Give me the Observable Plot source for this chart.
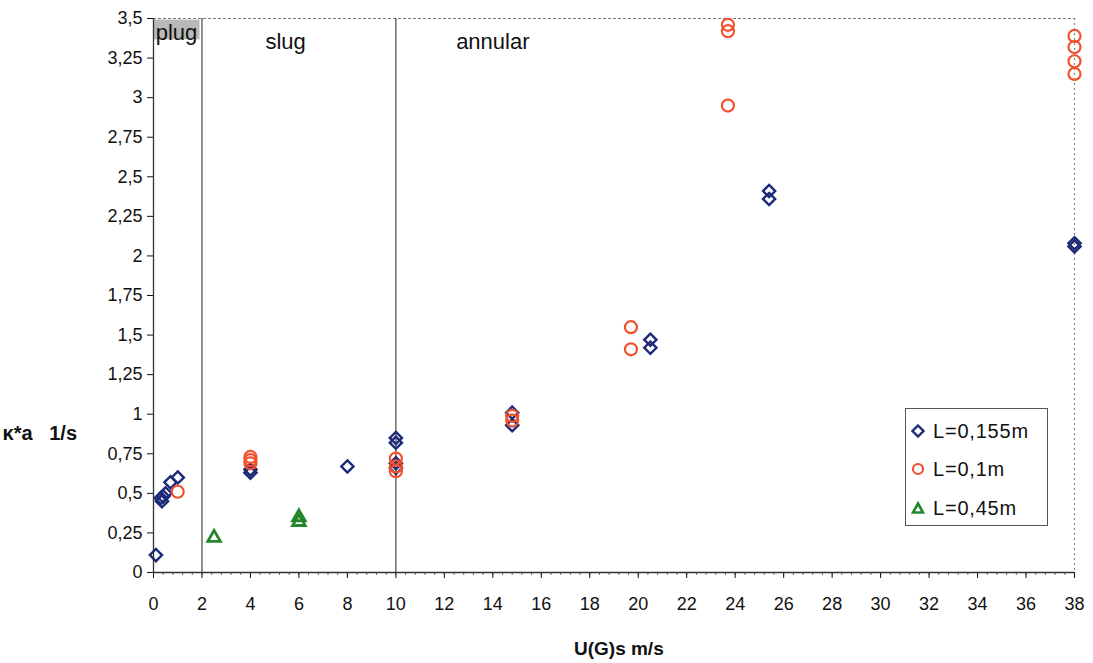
<!DOCTYPE html>
<html><head><meta charset="utf-8">
<script src="https://cdn.jsdelivr.net/npm/d3@7"></script>
<script src="https://cdn.jsdelivr.net/npm/@observablehq/plot@0.6"></script>
<style>
body{margin:0;background:#fff;font-family:"Liberation Sans",Arial,sans-serif;}
#wrap{position:relative;width:1093px;height:663px;}
#legend{position:absolute;left:905px;top:408px;width:143px;height:118px;border:1.5px solid #555;background:#fff;box-sizing:border-box;}
.row{position:absolute;left:5px;height:24px;display:flex;align-items:center;font-size:20px;letter-spacing:0.8px;color:#111;}
.row svg{margin-right:8px;}
</style></head><body>
<div id="wrap"><div id="chart"></div>
<div id="legend"></div></div>
<script>
// Series: L=0,155m (diamonds)
const d155x = [0.1, 0.3, 0.35, 0.4, 0.5, 0.7, 1.0, 4, 4, 8, 10, 10, 10, 10, 14.8, 14.8, 20.5, 20.5, 25.4, 25.4, 38, 38];
const d155y = [0.11, 0.47, 0.45, 0.48, 0.5, 0.57, 0.6, 0.65, 0.63, 0.67, 0.85, 0.82, 0.69, 0.66, 1.01, 0.93, 1.47, 1.42, 2.41, 2.36, 2.08, 2.06];
// Series: L=0,1m (circles)
const d01x = [1.0, 4, 4, 4, 10, 10, 10, 14.8, 14.8, 19.7, 19.7, 23.7, 23.7, 23.7, 38, 38, 38, 38];
const d01y = [0.51, 0.73, 0.71, 0.69, 0.72, 0.67, 0.64, 0.99, 0.96, 1.55, 1.41, 3.46, 3.42, 2.95, 3.39, 3.32, 3.23, 3.15];
// Series: L=0,45m (triangles)
const d45x = [2.5, 6, 6];
const d45y = [0.22, 0.35, 0.32];
// Regime boundaries and labels
const boundaries = [2, 10];
const regimeNames = ["plug", "slug", "annular"];
const regimeX = [0.95, 5.45, 14.0];
const regimeY = [3.41, 3.35, 3.35];
const seriesNames = ["L=0,155m", "L=0,1m", "L=0,45m"];
const colors = ["#1c2a78", "#f0502d", "#23862a"];
const xTicks = d3.range(0, 39, 2);
const yTicks = d3.range(0, 3.51, 0.25);
const xMinor = d3.range(0, 38.01, 0.4);

const toRows = (xs, ys) => xs.map((x, i) => ({x, y: ys[i]}));
const fmt = d => String(+d.toFixed(2)).replace(".", ",");

const chart = Plot.plot({
  width: 1093, height: 663,
  marginLeft: 153, marginRight: 19, marginTop: 18, marginBottom: 91,
  style: {fontFamily: '"Liberation Sans", Arial, sans-serif', fontSize: "18px", color: "#111", background: "#fff"},
  x: {domain: [0, 38], label: null},
  y: {domain: [0, 3.5], label: null},
  marks: [
    Plot.ruleY([3.5], {stroke: "#777", strokeDasharray: "3,2", strokeWidth: 1}),
    Plot.ruleX([38], {stroke: "#888", strokeDasharray: "2,3", strokeWidth: 1.2}),
    Plot.ruleX(boundaries, {stroke: "#555", strokeWidth: 1.3}),
    Plot.rect([0], {x1: 0.03, x2: 1.92, y1: 3.365, y2: 3.49, fill: "#8a8a8a", fillOpacity: 0.6}),
    Plot.text(regimeNames, {x: (d, i) => regimeX[i], y: (d, i) => regimeY[i], text: d => d, fontSize: 22, fill: "#111"}),
    Plot.axisX({ticks: xMinor, tickSize: 3, tickFormat: () => "", stroke: "#444", strokeWidth: 0.8}),
    Plot.axisY({ticks: yTicks, tickFormat: fmt, tickSize: 6, tickPadding: 5, fontSize: 18}),
    Plot.axisX({ticks: xTicks, tickFormat: fmt, tickSize: 6, tickPadding: 19, fontSize: 18}),
    Plot.ruleY([0], {stroke: "#333", strokeWidth: 1.3}),
    Plot.ruleX([0], {stroke: "#333", strokeWidth: 1.3}),
    Plot.dot(toRows(d155x, d155y), {x: "x", y: "y", symbol: "diamond2", r: 5.5, stroke: colors[0], strokeWidth: 2.4}),
    Plot.dot(toRows(d01x, d01y), {x: "x", y: "y", symbol: "circle", r: 6, stroke: colors[1], strokeWidth: 2.2, fill: "none"}),
    Plot.dot(toRows(d45x, d45y), {x: "x", y: "y", symbol: "triangle2", r: 6, stroke: colors[2], strokeWidth: 2.8, fill: "none"}),
    Plot.text(["U(G)s m/s"], {x: 19.2, y: 0, dy: 76, text: d => d, fontWeight: "bold", fontSize: 19, letterSpacing: "1.2px", fill: "#111"}),
    Plot.text(["\u03ba*a\u00a0\u00a0\u00a01/s"], {x: 0, y: 0.878, dx: -151, textAnchor: "start", text: d => d, fontWeight: "bold", fontSize: 20, letterSpacing: "3px", fill: "#111"})
  ]
});
document.getElementById("chart").appendChild(chart);

// Legend
const lg = document.getElementById("legend");
const symbolsSvg = [
  c => `<svg width="14" height="14"><path d="M7 1.5 L12.5 7 L7 12.5 L1.5 7 Z" fill="none" stroke="${c}" stroke-width="2.4"/></svg>`,
  c => `<svg width="14" height="14"><circle cx="7" cy="7" r="5" fill="none" stroke="${c}" stroke-width="2.2"/></svg>`,
  c => `<svg width="14" height="14"><path d="M7 2.5 L12 11.5 L2 11.5 Z" fill="none" stroke="${c}" stroke-width="2.6"/></svg>`
];
const rowTops = [10, 48, 87];
seriesNames.forEach((name, i) => {
  const r = document.createElement("div");
  r.className = "row";
  r.style.top = rowTops[i] + "px";
  r.innerHTML = symbolsSvg[i](colors[i]) + `<span>${name}</span>`;
  lg.appendChild(r);
});
</script>
</body></html>
